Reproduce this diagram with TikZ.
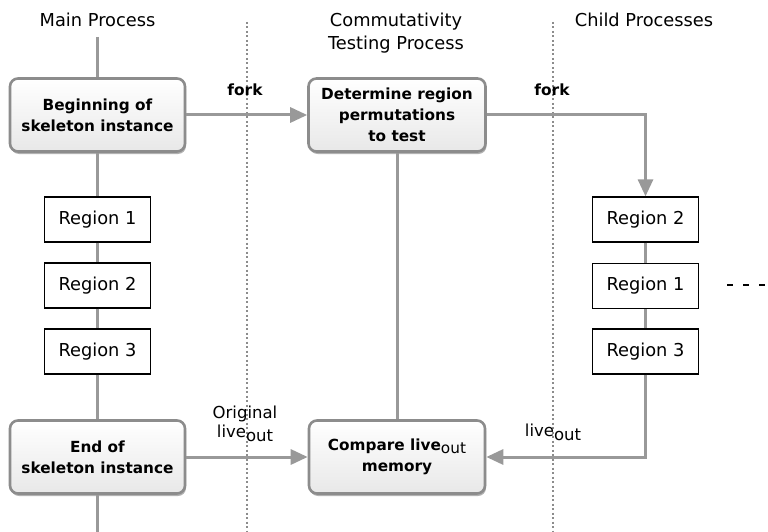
\documentclass[tikz,border=0pt]{standalone}
\usepackage{fontspec}
\setmainfont{DejaVu Sans}
\usetikzlibrary{arrows.meta,shadows}

\begin{document}
\begin{tikzpicture}[x=1pt,y=-1pt,
  conn/.style={draw=black!40, line width=3pt},
  arr/.style={conn, -{Triangle[length=17pt,width=15pt]}},
  sepline/.style={draw=black!45, line width=1.2pt, dash pattern=on 2pt off 2.5pt},
  procbox/.style={draw=black!45, line width=2.6pt, rounded corners=8pt,
    top color=white, bottom color=black!9,
    drop shadow={shadow xshift=1pt, shadow yshift=-2.5pt, opacity=0.3, fill=black},
    font=\fontsize{15.3}{21}\selectfont\bfseries, align=center, inner sep=0pt,
    minimum width=175pt, minimum height=73pt},
  regionbox/.style={draw=black, line width=1.3pt, fill=white,
    minimum width=106pt, minimum height=45pt,
    font=\fontsize{17.8}{20}\selectfont, inner sep=0pt},
  header/.style={font=\fontsize{17.8}{23}\selectfont, align=center, inner sep=0pt},
  lbl/.style={font=\fontsize{16.5}{19}\selectfont, align=center, inner sep=0pt},
  forklbl/.style={font=\fontsize{15.4}{18}\selectfont\bfseries, inner sep=0pt}
]
\useasboundingbox (0,0) rectangle (768,532);

% lane separators
\coordinate (s1t) at (247,22); \coordinate (s1b) at (247,532);
\coordinate (s2t) at (553,22); \coordinate (s2b) at (553,532);
\draw[sepline] (s1t) -- (s1b);
\draw[sepline] (s2t) -- (s2b);

% lane headings
\node[header, anchor=base] (hmain) at (97.5,27) {Main Process};
\node[header, anchor=base] (hcomm1) at (396,27) {Commutativity};
\node[header, anchor=base] (hcomm2) at (396,50) {Testing Process};
\node[header, anchor=base] (hchild) at (644,27) {Child Processes};

% main process
\node[procbox] (begin) at (97.5,115) {Beginning of\\skeleton instance};
\node[regionbox] (r1a) at (97.5,219.5) {Region 1};
\node[regionbox] (r2a) at (97.5,285.5) {Region 2};
\node[regionbox] (r3a) at (97.5,351.5) {Region 3};
\node[procbox] (end) at (97.5,457) {End of\\skeleton instance};

% commutativity testing process
\node[procbox, minimum width=177pt] (determine) at (397,115) {Determine region\\permutations\\to test};
\node[procbox, minimum width=176pt] (compare) at (397,457)
  {Compare live{\mdseries\raisebox{-3pt}{out}}\\memory};

% child processes
\node[regionbox] (r2b) at (645.5,219.5) {Region 2};
\node[regionbox] (r1b) at (645.5,286) {Region 1};
\node[regionbox] (r3b) at (645.5,351.5) {Region 3};

% main process timeline
\coordinate (mtop) at (97.5,37);
\coordinate (mbot) at (97.5,532);
\draw[conn] (mtop) -- (begin);
\draw[conn] (begin) -- (r1a);
\draw[conn] (r1a) -- (r2a);
\draw[conn] (r2a) -- (r3a);
\draw[conn] (r3a) -- (end);
\draw[conn] (end) -- (mbot);

% forks
\draw[arr] (begin) -- (determine);
\draw[arr] (determine.east) -| (r2b.north);
\node[forklbl, anchor=base] (fork1) at (245,96) {fork};
\node[forklbl, anchor=base] (fork2) at (552,96) {fork};

% commutativity process timeline
\draw[conn] (determine) -- (compare);

% child process timeline
\draw[conn] (r2b) -- (r1b);
\draw[conn] (r1b) -- (r3b);
\draw[arr] (r3b.south) |- (compare.east);

% live-out comparison
\draw[arr] (end) -- (compare);
\node[lbl] (orig) at (245,424) {Original\\live\raisebox{-4pt}{out}};
\node[lbl, anchor=base] (childout) at (553,436) {live\raisebox{-4pt}{out}};

% further child processes
\coordinate (dotsA) at (727,285);
\coordinate (dotsB) at (768,285);
\draw[line width=2.8pt, dash pattern=on 6pt off 10pt] (dotsA) -- (dotsB);
\end{tikzpicture}
\end{document}
